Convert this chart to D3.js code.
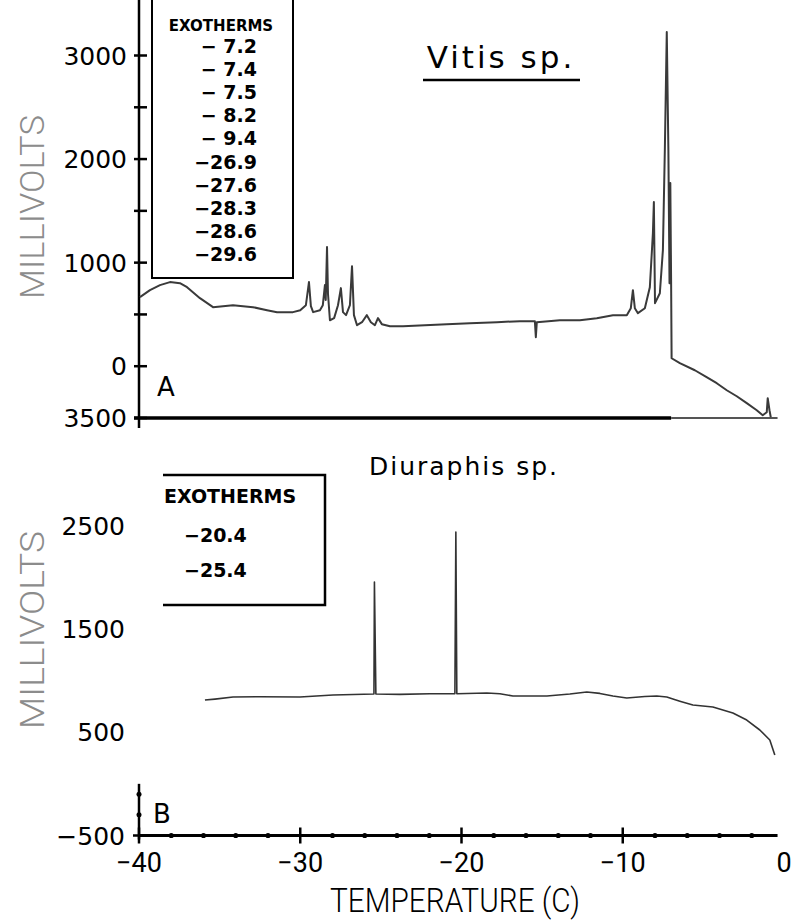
<!DOCTYPE html>
<html><head><meta charset="utf-8">
<script src="https://cdn.jsdelivr.net/npm/d3@7/dist/d3.min.js"></script>
<style>body{margin:0;background:#fff}svg{display:block}</style>
</head><body>
<svg id="c" width="796" height="921"></svg>
<script>
// ---- Data ----
const vitisTemp = [-39.94,-39.32,-38.7,-38.08,-37.46,-37.02,-36.22,-35.41,-34.79,-34.17,-32.93,-32.06,-31.44,-30.45,-30.0,-29.65,-29.46,-29.34,-29.2,-28.78,-28.6,-28.47,-28.42,-28.34,-28.28,-28.16,-27.9,-27.66,-27.48,-27.35,-27.16,-26.92,-26.79,-26.67,-26.48,-26.17,-25.87,-25.62,-25.37,-25.18,-24.94,-24.44,-23.63,-22.27,-20.91,-19.48,-17.8,-16.38,-15.45,-15.39,-15.33,-13.9,-12.66,-11.61,-10.61,-9.75,-9.5,-9.37,-9.25,-9.06,-8.63,-8.32,-8.13,-8.07,-8.0,-7.7,-7.51,-7.39,-7.27,-7.17,-7.1,-7.05,-7.0,-6.97,-6.46,-5.53,-4.8,-4.17,-3.55,-2.93,-2.31,-1.69,-1.32,-1.07,-1.01,-0.9,-0.82];
const vitisMv   = [667,734,783,812,802,763,657,570,580,589,570,541,522,522,541,589,812,580,522,541,589,783,640,1150,700,444,464,589,754,522,493,589,966,493,396,425,493,425,396,464,406,386,386,396,406,415,425,435,435,280,425,444,444,464,493,493,560,734,560,512,560,763,1285,1585,609,705,1121,2087,3227,2087,802,1768,802,77,29,-39,-106,-164,-232,-290,-357,-425,-473,-444,-309,-425,-493];

const diuTemp = [-35.91,-35.29,-34.17,-32.5,-30.02,-27.97,-25.43,-25.4,-25.31,-23.82,-21.96,-20.41,-20.35,-20.29,-18.43,-17.62,-16.81,-14.7,-13.28,-12.23,-11.42,-10.61,-9.75,-8.63,-7.89,-7.27,-6.46,-5.65,-4.41,-3.17,-2.31,-1.5,-0.88,-0.57];
const diuMv   = [811,820,840,843,840,860,869,1953,869,866,872,872,2437,872,879,872,850,850,870,889,875,850,831,845,850,840,800,763,743,685,617,521,424,279];

const vitisExotherms = ["\u2212 7.2","\u2212 7.4","\u2212 7.5","\u2212 8.2","\u2212 9.4","\u221226.9","\u221227.6","\u221228.3","\u221228.6","\u221229.6"];
const diuExotherms = ["\u221220.4","\u221225.4"];

const xTicks = [-40,-30,-20,-10,0];
const xTickLabels = ["\u221240","\u221230","\u221220","\u221210","0"];
const xMinorTicks = [-38,-36,-34,-32,-28,-26,-24,-22,-18,-16,-14,-12,-8,-6,-4,-2];

const aTicks = [-500,0,1000,2000,3000];
const aTickLabels = ["3500","0","1000","2000","3000"];
const aMinorTicks = [500,1500,2500];

const bTicks = [-500,500,1500,2500];
const bTickLabels = ["\u2212500","500","1500","2500"];
const bMinorTicks = [-300,-100];

// ---- Scales ----
const svg = d3.select("#c");
const x = d3.scaleLinear().domain([-40,0]).range([139,784]);
const yA = d3.scaleLinear().domain([-500,3000]).range([418,55.5]);
const yB = d3.scaleLinear().domain([-500,2500]).range([835.5,525.5]);

const numFont = "'DejaVu Sans', sans-serif";

// ---- Panel A ----
const gA = svg.append("g");
gA.append("line").attr("x1",x(-40)).attr("x2",x(-40)).attr("y1",0).attr("y2",428)
  .attr("stroke","#000").attr("stroke-width",2.5);
gA.selectAll(".ta").data(aTicks.concat(aMinorTicks)).join("line")
  .attr("x1",x(-40)-5).attr("x2",x(-40)+8)
  .attr("y1",d=>yA(d)).attr("y2",d=>yA(d)).attr("stroke","#000").attr("stroke-width",2.5);
gA.selectAll(".tla").data(aTicks).join("text")
  .attr("x",127).attr("y",d=>yA(d)+9).attr("text-anchor","end")
  .attr("font-family",numFont).attr("font-size",25).attr("fill","#000")
  .text((d,i)=>aTickLabels[i]);
gA.append("line").attr("x1",x(-40)-5).attr("x2",x(-7)).attr("y1",yA(-500)).attr("y2",yA(-500))
  .attr("stroke","#000").attr("stroke-width",3.5);
gA.append("line").attr("x1",x(-7)).attr("x2",x(-0.4)).attr("y1",yA(-500)).attr("y2",yA(-500))
  .attr("stroke","#555").attr("stroke-width",2);

const lineA = d3.line().x((d,i)=>x(vitisTemp[i])).y((d,i)=>yA(vitisMv[i]));
gA.append("path").attr("d",lineA(vitisTemp)).attr("fill","none")
  .attr("stroke","#3a3a3a").attr("stroke-width",2).attr("stroke-linejoin","round");

gA.append("path").attr("d","M152,0 V278 H293 V0").attr("fill","none")
  .attr("stroke","#000").attr("stroke-width",2);
gA.append("text").attr("x",221).attr("y",31).attr("text-anchor","middle")
  .attr("font-family",numFont).attr("font-weight","bold").attr("font-size",15)
  .text("EXOTHERMS");
gA.selectAll(".exa").data(vitisExotherms).join("text")
  .attr("x",257).attr("y",(d,i)=>53+i*23.1).attr("text-anchor","end")
  .attr("font-family",numFont).attr("font-size",19).attr("font-weight","bold")
  .style("white-space","pre")
  .text(d=>d);

gA.append("text").attr("x",501).attr("y",68).attr("text-anchor","middle")
  .attr("font-family",numFont).attr("font-size",31).attr("letter-spacing",3)
  .text("Vitis sp.");
gA.append("line").attr("x1",423).attr("x2",580).attr("y1",80).attr("y2",80)
  .attr("stroke","#000").attr("stroke-width",2.5);
gA.append("text").attr("x",157).attr("y",396).attr("font-family",numFont)
  .attr("font-size",26).text("A");

svg.append("text").attr("transform","translate(44,207) rotate(-90)")
  .attr("text-anchor","middle").attr("font-family","Roboto, sans-serif")
  .attr("font-weight",300).attr("font-size",34).attr("fill","#8c8c8c")
  .attr("textLength",184).attr("lengthAdjust","spacingAndGlyphs").text("MILLIVOLTS");

// ---- Panel B ----
const gB = svg.append("g");
gB.append("text").attr("x",464).attr("y",475).attr("text-anchor","middle")
  .attr("font-family",numFont).attr("font-size",25).attr("letter-spacing",2)
  .text("Diuraphis sp.");

gB.append("path").attr("d","M163,475 H325 V605 H163").attr("fill","none")
  .attr("stroke","#000").attr("stroke-width",2.5);
gB.append("text").attr("x",164).attr("y",503).attr("font-family",numFont)
  .attr("font-weight","bold").attr("font-size",19).text("EXOTHERMS");
gB.selectAll(".exb").data(diuExotherms).join("text")
  .attr("x",184).attr("y",(d,i)=>542+i*35).attr("font-family",numFont)
  .attr("font-weight","bold").attr("font-size",19).text(d=>d);

gB.selectAll(".tlb").data(bTicks).join("text")
  .attr("x",125).attr("y",d=>yB(d)+9).attr("text-anchor","end")
  .attr("font-family",numFont).attr("font-size",25).text((d,i)=>bTickLabels[i]);

gB.append("line").attr("x1",x(-40)).attr("x2",x(-40)).attr("y1",yB(0)).attr("y2",yB(-500)+4)
  .attr("stroke","#000").attr("stroke-width",2.5);
gB.selectAll(".mb").data(bMinorTicks).join("circle")
  .attr("cx",x(-40)).attr("cy",d=>yB(d)).attr("r",2.5).attr("fill","#000");
gB.append("line").attr("x1",x(-40)-6).attr("x2",x(-40)).attr("y1",yB(-500)).attr("y2",yB(-500))
  .attr("stroke","#000").attr("stroke-width",2.5);

gB.append("line").attr("x1",x(-40)).attr("x2",x(-0.4)).attr("y1",yB(-500)).attr("y2",yB(-500))
  .attr("stroke","#000").attr("stroke-width",3);
gB.selectAll(".xmaj").data(xTicks.slice(0,4)).join("line")
  .attr("x1",d=>x(d)).attr("x2",d=>x(d)).attr("y1",yB(-500)-8).attr("y2",yB(-500)+8)
  .attr("stroke","#000").attr("stroke-width",2.5);
gB.selectAll(".xmin").data(xMinorTicks).join("circle")
  .attr("cx",d=>x(d)).attr("cy",yB(-500)).attr("r",2.6).attr("fill","#000");
gB.selectAll(".xl").data(xTicks).join("text")
  .attr("x",d=>x(d)).attr("y",872).attr("text-anchor","middle")
  .attr("font-family","Roboto, sans-serif").attr("font-size",27)
  .text((d,i)=>xTickLabels[i]);
gB.append("text").attr("x",455).attr("y",912).attr("text-anchor","middle")
  .attr("font-family","Roboto, sans-serif").attr("font-weight",300).attr("font-size",33)
  .attr("textLength",250).attr("lengthAdjust","spacingAndGlyphs").text("TEMPERATURE (C)");
gB.append("text").attr("x",153).attr("y",823).attr("font-family",numFont)
  .attr("font-size",26).text("B");

const lineB = d3.line().x((d,i)=>x(diuTemp[i])).y((d,i)=>yB(diuMv[i]));
gB.append("path").attr("d",lineB(diuTemp)).attr("fill","none")
  .attr("stroke","#333").attr("stroke-width",1.6).attr("stroke-linejoin","round");

svg.append("text").attr("transform","translate(44,630) rotate(-90)")
  .attr("text-anchor","middle").attr("font-family","Roboto, sans-serif")
  .attr("font-weight",300).attr("font-size",34).attr("fill","#8c8c8c")
  .attr("textLength",198).attr("lengthAdjust","spacingAndGlyphs").text("MILLIVOLTS");
</script>
</body></html>
